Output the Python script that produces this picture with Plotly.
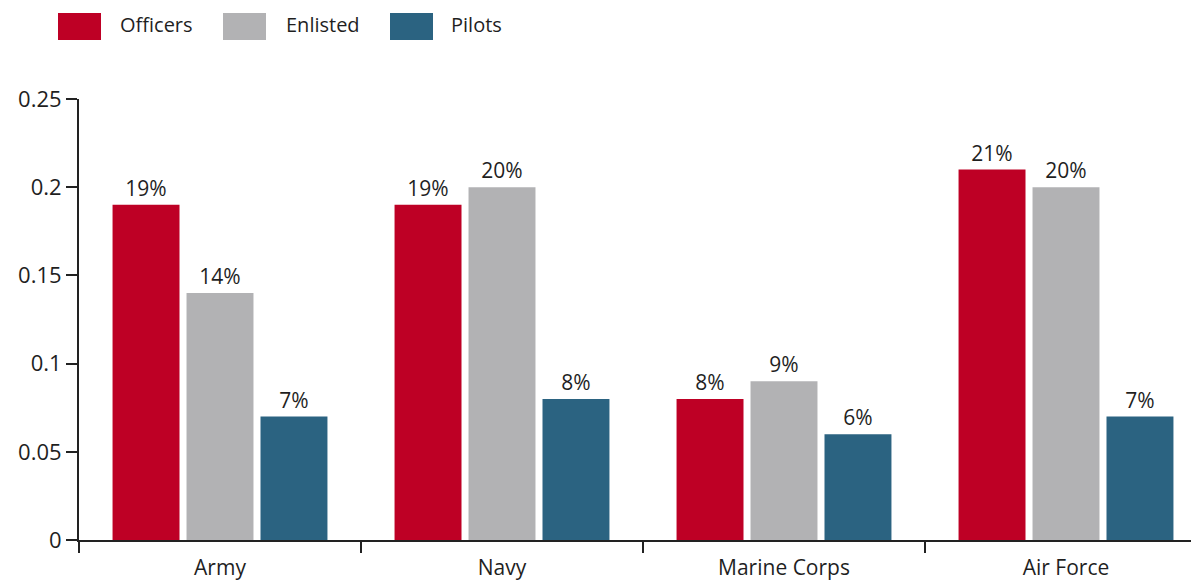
import plotly.graph_objects as go

categories = ["Army", "Navy", "Marine Corps", "Air Force"]
series_names = ["Officers", "Enlisted", "Pilots"]
officers = [0.19, 0.19, 0.08, 0.21]
enlisted = [0.14, 0.20, 0.09, 0.20]
pilots = [0.07, 0.08, 0.06, 0.07]
y_ticks = [0, 0.05, 0.1, 0.15, 0.2, 0.25]
y_tick_labels = ["0", "0.05", "0.1", "0.15", "0.2", "0.25"]

colors = ["#BE0025", "#B2B2B4", "#2B6381"]
values = [officers, enlisted, pilots]
FONT = "Open Sans"
TXT = "#1f1f1f"

fig = go.Figure()
for name, vals, col in zip(series_names, values, colors):
    fig.add_trace(go.Bar(
        x=categories, y=vals, name=name, marker_color=col,
        marker_line_width=0,
        texttemplate="%{y:.0%}", textposition="outside",
        textfont=dict(family=FONT, size=21, color=TXT),
        cliponaxis=False, showlegend=False,
    ))

W, H = 1199, 581
OFF = 8  # page body offset
L, R, T, B = 79 - OFF, 0, 99 - OFF, 581 - 540 + OFF
# plot area in page pixels
PX0, PX1 = 79, 1207
PY0, PY1 = 99, 540


def px_x(x):
    return (x - PX0) / (PX1 - PX0)


def px_y(y):
    return (PY1 - y) / (PY1 - PY0)


shapes = []
annotations = []
legend_rects = [(58, 101), (223, 266), (390, 433)]
legend_text_x = [121, 287, 452]
for (x0, x1), tx, name, col in zip(legend_rects, legend_text_x, series_names, colors):
    shapes.append(dict(type="rect", xref="paper", yref="paper",
                       x0=px_x(x0), x1=px_x(x1), y0=px_y(40), y1=px_y(13),
                       fillcolor=col, line=dict(width=0)))
    annotations.append(dict(xref="paper", yref="paper", x=px_x(tx) - 0.003, y=px_y(25),
                            text=name, showarrow=False, xanchor="left", yanchor="middle",
                            font=dict(family=FONT, size=20, color=TXT)))

fig.update_layout(
    width=W, height=H,
    margin=dict(l=L, r=R, t=T, b=B),
    paper_bgcolor="white", plot_bgcolor="white",
    barmode="group", bargap=0.213, bargroupgap=0.095,
    font=dict(family=FONT, size=20, color=TXT),
    shapes=shapes, annotations=annotations,
    xaxis=dict(range=[-0.5, 3.5], showline=True, linecolor="#222", linewidth=2,
               ticks="outside", tickson="boundaries", ticklen=11, tickwidth=1.5,
               tickcolor="#222", showgrid=False, zeroline=False,
               ticklabelstandoff=8,
               tickfont=dict(family=FONT, size=21, color=TXT)),
    yaxis=dict(range=[0, 0.25], tickvals=y_ticks, ticktext=y_tick_labels,
               showline=True, linecolor="#222", linewidth=2,
               ticks="outside", ticklen=11, tickwidth=1.5, tickcolor="#222",
               showgrid=False, zeroline=False,
               tickfont=dict(family=FONT, size=22, color=TXT)),
)

fig.write_html("out.html")
